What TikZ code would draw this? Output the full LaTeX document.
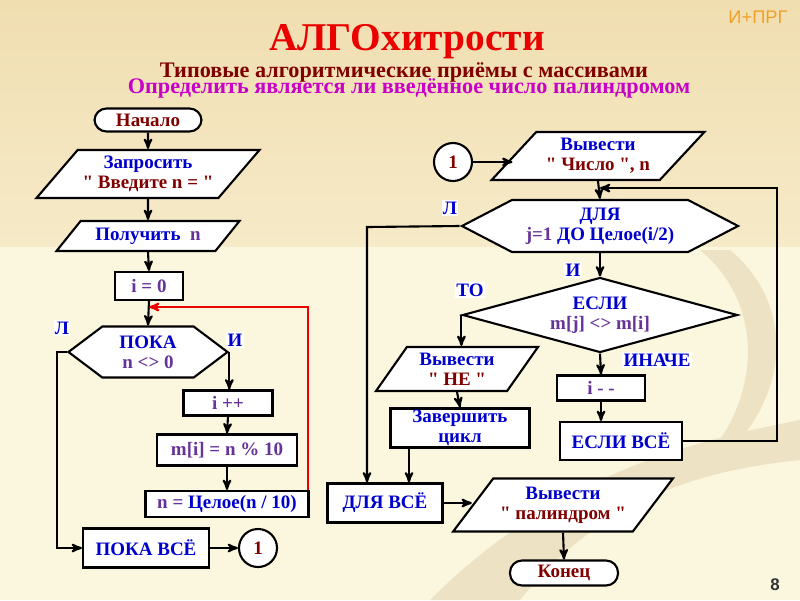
\documentclass[tikz,border=0pt]{standalone}
\usepackage{fontspec}
\setmainfont{Liberation Serif}[Ligatures=TeXOff]
\newfontfamily\logofont{Liberation Sans}
\usetikzlibrary{shapes,arrows,positioning}

\definecolor{kwblue}{RGB}{0,0,204}
\definecolor{strred}{RGB}{128,0,0}
\definecolor{varpurp}{RGB}{102,51,153}
\definecolor{titred}{RGB}{235,0,0}
\definecolor{taskmag}{RGB}{200,0,200}
\definecolor{logoorg}{RGB}{240,160,40}
\definecolor{bgtop}{RGB}{240,222,176}
\definecolor{bgmid}{RGB}{246,234,200}
\definecolor{bgbot}{RGB}{251,246,222}
\definecolor{swoosh}{RGB}{238,226,196}

\tikzset{
  blk/.style={draw=black,fill=white,line width=1.5pt,inner sep=1pt,align=center,
    font=\fontsize{13.5}{14.5}\selectfont\bfseries},
  box/.style={blk,rectangle},
  term/.style={blk,rectangle,rounded corners=0.3cm},
  io/.style={blk,trapezium,trapezium left angle=45,trapezium right angle=135,trapezium stretches=true},
  hexa/.style={blk,signal,signal to=west and east},
  cond/.style={blk,diamond,aspect=3.67,inner sep=0pt},
  conn/.style={blk,circle,minimum size=0.95cm},
  lbl/.style={fill=white,inner sep=1pt,text=kwblue,font=\fontsize{13.5}{14.5}\selectfont\bfseries},
  flow/.style={line width=1.5pt,->,>=stealth'},
}

\begin{document}
\begin{tikzpicture}[x=0.025cm,y=-0.025cm]
  % background
  \useasboundingbox (0,0) rectangle (800,600);
  \shade[top color=bgtop,bottom color=bgmid] (0,0) rectangle (800,247);
  \fill[bgbot] (0,247) rectangle (800,600);
  \fill[swoosh] (800,420) .. controls (700,440) and (560,470) .. (430,600) -- (520,600)
    .. controls (600,500) and (700,470) .. (800,460) -- cycle;
  \fill[swoosh] (700,250) .. controls (760,300) and (760,380) .. (720,440) -- (740,440)
    .. controls (790,380) and (790,300) .. (730,250) -- cycle;

  % headings
  \node[text=logoorg,font=\logofont\fontsize{13}{13}\selectfont] (logo) at (758,17) {И+ПРГ};
  \node[text=titred,font=\fontsize{28}{28}\selectfont\bfseries] (title) at (407,42) {АЛГОхитрости};
  \node[text=strred,font=\fontsize{15.8}{15.8}\selectfont\bfseries] (sub) at (404,72) {Типовые алгоритмические приёмы с массивами};
  \node[text=taskmag,font=\fontsize{15.8}{15.8}\selectfont\bfseries] (task) at (409,88) {Определить является ли введённое число палиндромом};
  \node[text=black!80,font=\logofont\fontsize{12}{12}\selectfont\bfseries] (page) at (775,585) {8};

  % left column
  \node[term,minimum width=2.675cm,minimum height=0.575cm] (start) at (148,120) {\color{strred}Начало};
  \node[io,minimum width=5.575cm,minimum height=1.2cm] (ask) at (148,174)
    {\color{kwblue}Запросить\\\color{strred}" Введите n = "};
  \node[io,minimum width=4.575cm,minimum height=0.75cm] (get) at (148,236)
    {\color{kwblue}Получить \ \color{varpurp}n};
  \node[box,minimum width=1.7cm,minimum height=0.7cm] (init) at (149,286) {\color{varpurp}i = 0};
  \node[hexa,signal pointer angle=74,minimum width=3.975cm,minimum height=1.275cm] (while) at (148,352)
    {\color{kwblue}ПОКА\\\color{varpurp}n <> 0};
  \node[box,minimum width=2.225cm,minimum height=0.625cm] (inc) at (228,403) {\color{varpurp}i ++};
  \node[box,minimum width=3.5cm,minimum height=0.775cm] (mod) at (227,450) {\color{varpurp}m[i] = n \%\ 10};
  \node[box,minimum width=4.075cm,minimum height=0.65cm] (div) at (227,504)
    {\color{varpurp}n = \color{kwblue}Целое(n / 10)};
  \node[box,minimum width=3.15cm,minimum height=0.975cm] (endwhile) at (146,548) {\color{kwblue}ПОКА ВСЁ};
  \node[conn] (c1a) at (258,548) {\color{strred}1};

  \node[lbl] (lno) at (62,328) {Л};
  \node[lbl] (lyes) at (235,340) {И};

  % right column
  \node[conn] (c1b) at (453,162) {\color{strred}1};
  \node[io,minimum width=5.325cm,minimum height=1.2cm] (outn) at (598,156)
    {\color{kwblue}Вывести\\\color{strred}" Число ", n};
  \node[hexa,signal pointer angle=55,minimum width=6.9cm,minimum height=1.3cm] (for) at (600,226)
    {\color{kwblue}ДЛЯ\\\color{varpurp}j=1 \color{kwblue}ДО Целое(i/2)};
  \node[cond,minimum width=6.875cm,minimum height=1.875cm] (if) at (600,315)
    {\color{kwblue}ЕСЛИ\\\color{varpurp}m[j] <> m[i]};
  \node[io,trapezium left angle=56,trapezium right angle=124,minimum width=4.075cm,minimum height=1.1cm] (outne) at (457,369)
    {\color{kwblue}Вывести\\\color{strred}" НЕ "};
  \node[box,minimum width=3.475cm,minimum height=0.925cm] (brk) at (460,428)
    {\color{kwblue}Завершить\\\color{kwblue}цикл};
  \node[box,minimum width=2.2cm,minimum height=0.625cm] (dec) at (601,388) {\color{varpurp}i - -};
  \node[box,minimum width=3.05cm,minimum height=0.95cm] (endif) at (621,441) {\color{kwblue}ЕСЛИ ВСЁ};
  \node[box,minimum width=2.875cm,minimum height=0.975cm] (endfor) at (385,503) {\color{kwblue}ДЛЯ ВСЁ};
  \node[io,trapezium left angle=47,trapezium right angle=133,minimum width=5.5cm,minimum height=1.325cm] (outp) at (563,505)
    {\color{kwblue}Вывести\\\color{strred}" палиндром "};
  \node[term,minimum width=2.7cm,minimum height=0.625cm] (stop) at (564,573) {\color{strred}Конец};

  \node[lbl] (rno) at (450,208) {Л};
  \node[lbl] (ryes) at (573,270) {И};
  \node[lbl] (rthen) at (470,290) {ТО};
  \node[lbl] (relse) at (657,360) {ИНАЧЕ};

  % turning points
  \coordinate (loopin) at (149,307);
  \coordinate (wl) at (57,352);
  \coordinate (forin) at (600,188);
  \coordinate (fr) at (777,188);
  \coordinate (fl) at (367,227);

  \path [flow]
    (start.south) edge (ask.north)
    (ask.south) edge (get.north)
    (get.south) edge (init.north)
    (init.south) edge (while.north)
    (while.east) edge (while.east |- inc.north)
    (inc.south) edge (mod.north)
    (mod.south) edge (div.north)
    (endwhile.east) edge (c1a.west)
    (c1b.east) edge (c1b.east -| outn.west)
    (outn.south) edge (for.north)
    (for.south) edge (if.north)
    (if.west) edge (if.west |- outne.north)
    (outne.south) edge (brk.north)
    (if.south) edge (dec.north)
    (dec.south) edge (dec.south |- endif.north)
    (endfor.east) edge (endfor.east -| outp.west)
    (outp.south) edge (stop.north);
  \draw[flow,draw=titred] ([xshift=-0.05cm]div.north east) |- (loopin);
  \draw[flow] (while.west) -- (wl) |- (endwhile.west);
  \draw[flow] (for.west) -- (fl) -- (fl |- endfor.north);
  \draw[flow] ([xshift=-1.275cm]brk.south) -- ([xshift=-1.275cm]brk.south |- endfor.north);
  \draw[flow] (endif.east) -| (fr) -- (forin);
\end{tikzpicture}
\end{document}
